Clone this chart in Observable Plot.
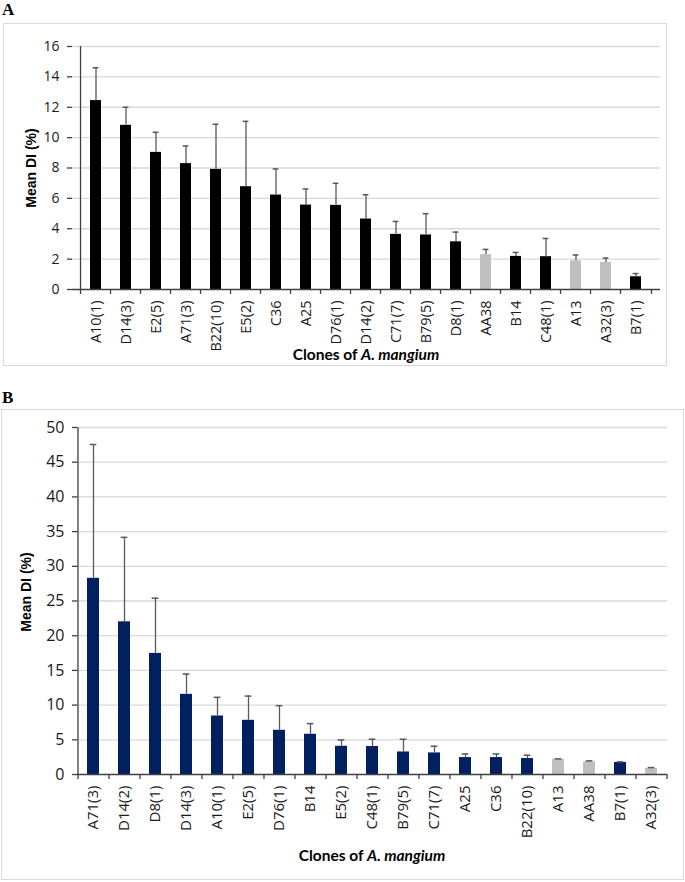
<!DOCTYPE html>
<html>
<head>
<meta charset="utf-8">
<script src="https://cdn.jsdelivr.net/npm/d3@7"></script>
<script src="https://cdn.jsdelivr.net/npm/@observablehq/plot@0.6"></script>
<style>
  html, body { margin: 0; padding: 0; background: #fff; }
  #wrap { position: relative; width: 685px; height: 882px; overflow: hidden; font-family: "Open Sans", sans-serif; }
  .abs { position: absolute; }
  .letter { position: absolute; font-family: "Liberation Serif", serif; font-weight: bold; font-size: 17px; line-height: 1.1; color: #000; }
  .box { position: absolute; border: 1px solid #d9d9d9; box-sizing: border-box; }
  .ytitle { position: absolute; white-space: nowrap; font-family: "Liberation Sans", Arial, sans-serif; font-weight: bold; font-size: 14px; color: #000; transform: translate(-50%, -50%) rotate(-90deg); line-height: 1; }
  .xtitle { position: absolute; white-space: nowrap; font-family: Lato, sans-serif; font-weight: bold; font-size: 15.5px; color: #000; transform: translate(-50%, -50%); line-height: 1; }
  svg text { font-family: "Open Sans", sans-serif; }
</style>
</head>
<body>
<div id="wrap">
  <div class="letter" style="left:2px;top:1px;">A</div>
  <div class="box" style="left:3px;top:23px;width:664px;height:343px;"></div>
  <div id="chartA" class="abs" style="left:0;top:0;"></div>
  <div class="ytitle" style="left:31px;top:168px;">Mean DI (%)</div>
  <div class="xtitle" style="left:366px;top:355px;">Clones of <i>A. mangium</i></div>

  <div class="letter" style="left:2px;top:389px;">B</div>
  <div class="box" style="left:1px;top:409px;width:683px;height:471px;"></div>
  <div id="chartB" class="abs" style="left:0;top:400px;"></div>
  <div class="ytitle" style="left:26px;top:592px;">Mean DI (%)</div>
  <div class="xtitle" style="left:372px;top:856px;">Clones of <i>A. mangium</i></div>
</div>
<script>
// ---- Panel A data ----
const clonesA = ["A10(1)", "D14(3)", "E2(5)", "A71(3)", "B22(10)", "E5(2)", "C36", "A25", "D76(1)", "D14(2)", "C71(7)", "B79(5)", "D8(1)", "AA38", "B14", "C48(1)", "A13", "A32(3)", "B7(1)"];
const meanA = [12.44, 10.81, 9.03, 8.29, 7.91, 6.77, 6.22, 5.56, 5.54, 4.64, 3.63, 3.59, 3.14, 2.29, 2.18, 2.16, 1.89, 1.78, 0.84];
const errA = [2.16, 1.19, 1.32, 1.16, 2.97, 4.30, 1.72, 1.06, 1.45, 1.60, 0.85, 1.40, 0.64, 0.35, 0.26, 1.20, 0.38, 0.29, 0.21];
const yTicksA = [0, 2, 4, 6, 8, 10, 12, 14, 16];

// ---- Panel B data ----
const clonesB = ["A71(3)", "D14(2)", "D8(1)", "D14(3)", "A10(1)", "E2(5)", "D76(1)", "B14", "E5(2)", "C48(1)", "B79(5)", "C71(7)", "A25", "C36", "B22(10)", "A13", "AA38", "B7(1)", "A32(3)"];
const meanB = [28.27, 22.0, 17.45, 11.55, 8.43, 7.81, 6.37, 5.8, 4.07, 4.03, 3.25, 3.11, 2.44, 2.44, 2.3, 2.2, 1.82, 1.73, 0.86];
const errB = [19.28, 12.17, 7.95, 2.92, 2.69, 3.49, 3.55, 1.53, 0.91, 1.05, 1.83, 0.96, 0.52, 0.52, 0.48, 0.05, 0.14, 0.09, 0.14];
const yTicksB = [0, 5, 10, 15, 20, 25, 30, 35, 40, 45, 50];

// clones drawn in light grey
const greyClones = ["AA38", "A13", "A32(3)"];

function makeChart(cfg) {
  const data = cfg.clones.map((c, i) => ({
    clone: c,
    mean: cfg.means[i],
    top: cfg.means[i] + cfg.errs[i],
    group: greyClones.includes(c) ? "grey" : "main"
  }));
  const innerW = cfg.width - cfg.marginLeft - cfg.marginRight;
  const step = innerW / cfg.clones.length;
  const pad = 0.62;
  const bw = step * (1 - pad);
  const capInset = (bw - 6.5) / 2;
  const axisColor = "#404040";
  const textColor = "#1a1a1a";
  return Plot.plot({
    width: cfg.width,
    height: cfg.height,
    marginLeft: cfg.marginLeft,
    marginRight: cfg.marginRight,
    marginTop: cfg.marginTop,
    marginBottom: cfg.marginBottom,
    style: { fontFamily: "'Open Sans', sans-serif", fontSize: cfg.yFont + "px", color: textColor, background: "transparent", overflow: "visible" },
    x: { type: "band", domain: cfg.clones, paddingInner: pad, paddingOuter: pad / 2, align: 0.5, label: null },
    y: { domain: [cfg.yTicks[0], cfg.yTicks[cfg.yTicks.length - 1]], label: null },
    color: { domain: ["main", "grey"], range: [cfg.barColor, "#bfbfbf"] },
    marks: [
      Plot.ruleY(cfg.yTicks.slice(1), { stroke: "#d9d9d9", strokeWidth: 1.3 }),
      Plot.barY(data, { x: "clone", y: "mean", fill: "group" }),
      Plot.ruleX(data, { x: "clone", y1: "mean", y2: "top", stroke: "#595959", strokeWidth: 1.3 }),
      Plot.tickY(data, { x: "clone", y: "top", stroke: "#595959", strokeWidth: 1.5, insetLeft: capInset, insetRight: capInset }),
      Plot.ruleY([0], { stroke: axisColor, strokeWidth: 1.3 }),
      Plot.ruleX([cfg.clones[0]], { y1: cfg.yTicks[0], y2: cfg.yTicks[cfg.yTicks.length - 1], dx: -step / 2, stroke: axisColor, strokeWidth: 1.3 }),
      Plot.axisY({ ticks: cfg.yTicks, tickSize: 5, tickPadding: cfg.yPad, stroke: axisColor, strokeWidth: 1.3, fontSize: cfg.yFont, fill: textColor, label: null }),
      Plot.axisX({ tickSize: 5, text: null, dx: -step / 2, stroke: axisColor, strokeWidth: 1.3, label: null }),
      Plot.axisX({ ticks: [cfg.clones[cfg.clones.length - 1]], tickSize: 5, text: null, dx: step / 2, stroke: axisColor, strokeWidth: 1.3, label: null }),
      Plot.axisX({ tickSize: 0, tickPadding: cfg.xPad, tickRotate: -90, fontSize: cfg.xFont, fill: textColor, label: null })
    ]
  });
}

document.getElementById("chartA").appendChild(makeChart({
  clones: clonesA, means: meanA, errs: errA, yTicks: yTicksA,
  width: 685, height: 370, marginLeft: 72, marginRight: 25, marginTop: 46, marginBottom: 81,
  barColor: "#000000", yFont: 14, xFont: 14.5, yPad: 8, xPad: 11
}));

document.getElementById("chartB").appendChild(makeChart({
  clones: clonesB, means: meanB, errs: errB, yTicks: yTicksB,
  width: 685, height: 482, marginLeft: 77, marginRight: 18, marginTop: 27, marginBottom: 108,
  barColor: "#002060", yFont: 16, xFont: 15, yPad: 8, xPad: 11
}));
</script>
</body>
</html>
